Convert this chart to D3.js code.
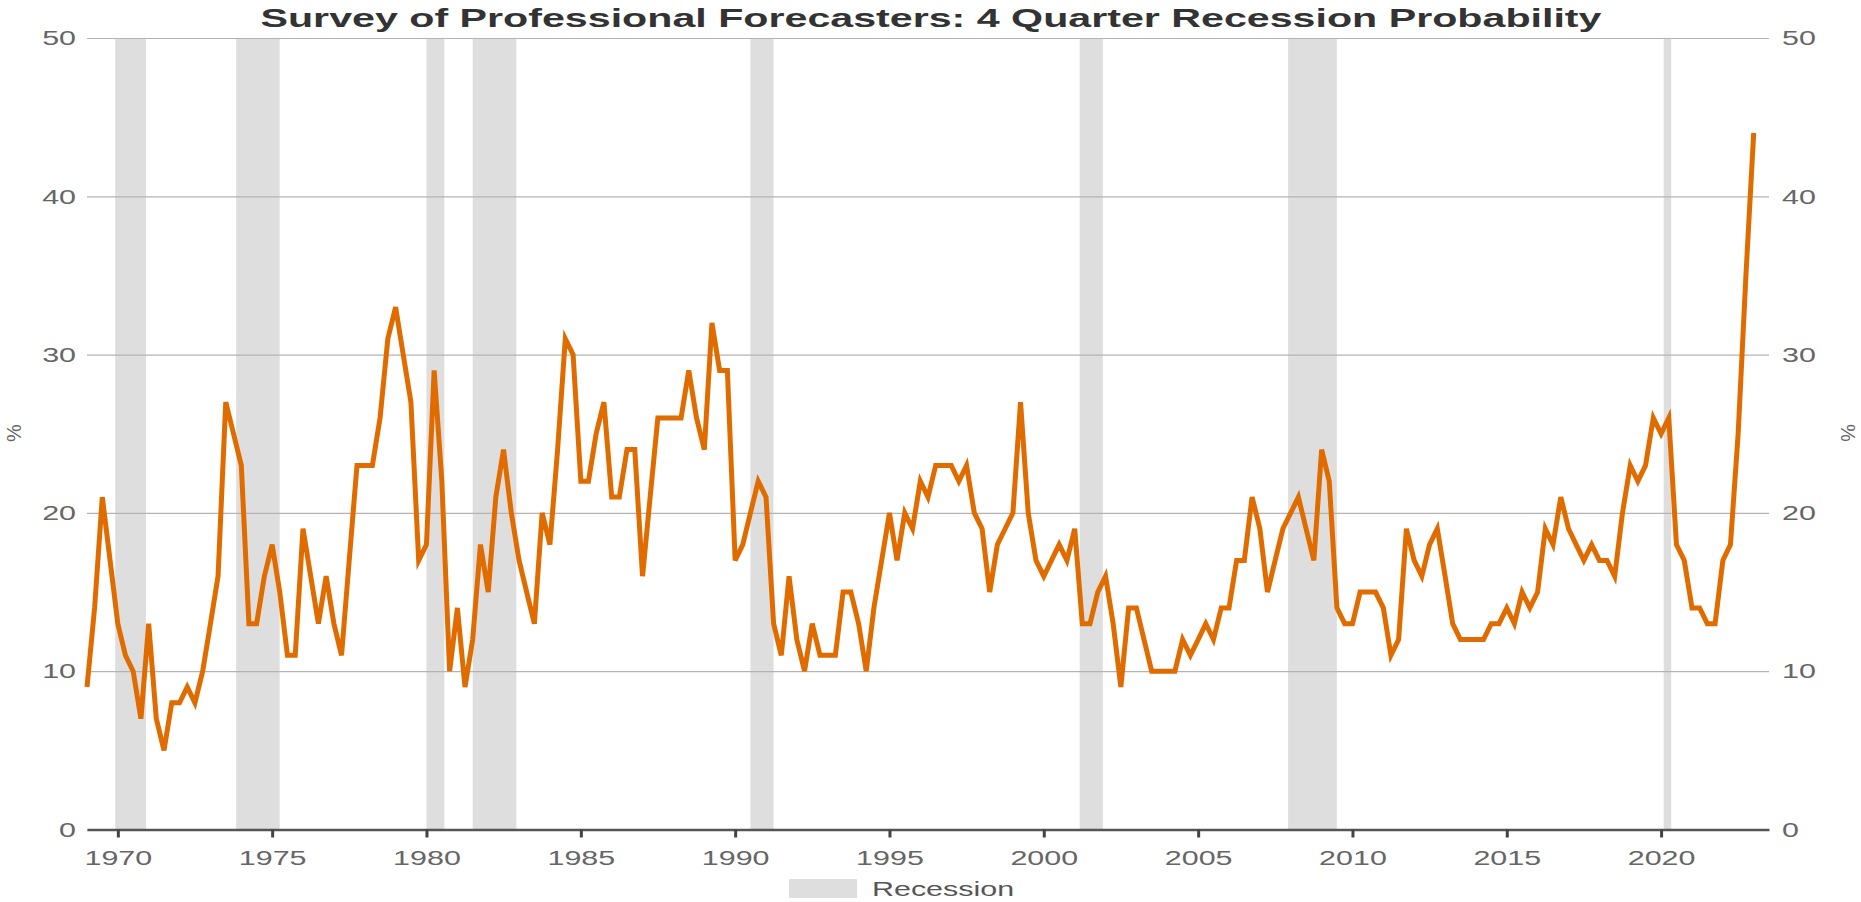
<!DOCTYPE html>
<html>
<head>
<meta charset="utf-8">
<script src="https://cdn.jsdelivr.net/npm/d3@7"></script>
<style>
  html, body { margin: 0; padding: 0; background: #ffffff; }
  svg { display: block; font-family: "Liberation Sans", Arial, Helvetica, sans-serif; }
</style>
</head>
<body>
<svg id="chart" width="1861" height="902"></svg>
<script>
// ---------------- data ----------------
const chartTitle = "Survey of Professional Forecasters: 4 Quarter Recession Probability";
const yAxisLabel = "%";
const legendLabel = "Recession";

// quarterly series, first observation 1968Q4 (plotted at quarter end)
const firstYear = 1968;
const firstQuarter = 4;
const probability = [
  9, 14, 21, 17, 13, 11, 10, 7, 13, 7, 5, 8, 8, 9, 8, 10,
  13, 16, 27, 25, 23, 13, 13, 16, 18, 15, 11, 11, 19, 16, 13, 16,
  13, 11, 17, 23, 23, 23, 26, 31, 33, 30, 27, 17, 18, 29, 22, 10,
  14, 9, 12, 18, 15, 21, 24, 20, 17, 15, 13, 20, 18, 24, 31, 30,
  22, 22, 25, 27, 21, 21, 24, 24, 16, 21, 26, 26, 26, 26, 29, 26,
  24, 32, 29, 29, 17, 18, 20, 22, 21, 13, 11, 16, 12, 10, 13, 11,
  11, 11, 15, 15, 13, 10, 14, 17, 20, 17, 20, 19, 22, 21, 23, 23,
  23, 22, 23, 20, 19, 15, 18, 19, 20, 27, 20, 17, 16, 17, 18, 17,
  19, 13, 13, 15, 16, 13, 9, 14, 14, 12, 10, 10, 10, 10, 12, 11,
  12, 13, 12, 14, 14, 17, 17, 21, 19, 15, 17, 19, 20, 21, 19, 17,
  24, 22, 14, 13, 13, 15, 15, 15, 14, 11, 12, 19, 17, 16, 18, 19,
  16, 13, 12, 12, 12, 12, 13, 13, 14, 13, 15, 14, 15, 19, 18, 21,
  19, 18, 17, 18, 17, 17, 16, 20, 23, 22, 23, 26, 25, 26, 18, 17,
  14, 14, 13, 13, 17, 18, 25, 35, 44
];

const recessionStarts = ["1969-12-01", "1973-11-01", "1980-01-01", "1981-07-01", "1990-07-01", "2001-03-01", "2007-12-01", "2020-02-01"];
const recessionEnds   = ["1970-11-30", "1975-03-31", "1980-07-31", "1982-11-30", "1991-03-31", "2001-11-30", "2009-06-30", "2020-04-30"];

const yTickValues = [0, 10, 20, 30, 40, 50];
const xTickYears = [1970, 1975, 1980, 1985, 1990, 1995, 2000, 2005, 2010, 2015, 2020];

// ---------------- layout ----------------
const W = 1861, H = 902;
const plot = { left: 87, right: 1769, top: 38, bottom: 829.5 };
const textStretch = 1.45;          // reference text is horizontally widened
const lineColor = "#e06c00";
const bandColor = "#dedede";

const svg = d3.select("#chart");

const series = probability.map((v, i) => ({
  date: new Date(firstYear, (firstQuarter - 1) * 3 + 3 + 3 * i, 1),
  value: v
}));

const x = d3.scaleTime()
  .domain([new Date(1969, 0, 1), new Date(2023, 6, 1)])
  .range([plot.left, plot.right]);

const y = d3.scaleLinear()
  .domain([0, 50])
  .range([plot.bottom, plot.top]);

function stretch(sel, anchorX) {
  sel.each(function () {
    const t = d3.select(this);
    const ax = anchorX != null ? anchorX : (+t.attr("x") || 0);
    t.attr("transform", `translate(${ax},0) scale(${textStretch},1) translate(${-ax},0)`);
  });
}

// recession bands
const recessions = recessionStarts.map((s, i) => ({ start: new Date(s), end: new Date(recessionEnds[i]) }));
svg.append("g").selectAll("rect")
  .data(recessions)
  .join("rect")
  .attr("x", d => x(d.start))
  .attr("width", d => Math.max(1, x(d.end) - x(d.start)))
  .attr("y", y(50))
  .attr("height", y(0) - y(50))
  .attr("fill", bandColor);

// gridlines
const grid = svg.append("g")
  .attr("transform", `translate(${plot.left},0)`)
  .call(d3.axisLeft(y).tickValues(yTickValues).tickSize(-(plot.right - plot.left)).tickFormat(""));
grid.select(".domain").remove();
grid.selectAll(".tick line").attr("stroke", "#b3b3b3").attr("stroke-width", 1.2);

// left labels
const yLeft = svg.append("g")
  .attr("transform", `translate(${plot.left},0)`)
  .call(d3.axisLeft(y).tickValues(yTickValues).tickSize(0).tickPadding(11));
yLeft.select(".domain").remove();
yLeft.selectAll("text").attr("font-size", 21).attr("fill", "#666").attr("font-family", null);
stretch(yLeft.selectAll("text"));

// right labels
const yRight = svg.append("g")
  .attr("transform", `translate(${plot.right},0)`)
  .call(d3.axisRight(y).tickValues(yTickValues).tickSize(0).tickPadding(13));
yRight.select(".domain").remove();
yRight.selectAll("text").attr("font-size", 21).attr("fill", "#666").attr("font-family", null);
stretch(yRight.selectAll("text"));

// x axis
const xAxis = svg.append("g")
  .attr("transform", `translate(0,${y(0)})`)
  .call(d3.axisBottom(x)
    .tickValues(xTickYears.map(yr => new Date(yr, 0, 1)))
    .tickFormat(d3.timeFormat("%Y"))
    .tickSize(8)
    .tickPadding(13)
    .tickSizeOuter(0));
xAxis.select(".domain").attr("stroke", "#555").attr("stroke-width", 2.5);
xAxis.selectAll(".tick line").attr("stroke", "#444").attr("stroke-width", 3);
xAxis.selectAll("text").attr("font-size", 21).attr("fill", "#666").attr("font-family", null);
stretch(xAxis.selectAll("text"), 0);

// line
const line = d3.line()
  .x(d => x(d.date))
  .y(d => y(d.value));

svg.append("path")
  .datum(series)
  .attr("fill", "none")
  .attr("stroke", lineColor)
  .attr("stroke-width", 5)
  .attr("stroke-linejoin", "miter")
  .attr("d", line);

// title
svg.append("text")
  .attr("x", (W - 1341) / 2 + 0.5)
  .attr("y", 27)
  .attr("font-size", 26)
  .attr("font-weight", "bold")
  .attr("fill", "#333")
  .attr("textLength", 1341)
  .attr("lengthAdjust", "spacingAndGlyphs")
  .text(chartTitle);

// axis titles
svg.append("text")
  .attr("transform", `translate(21,433) rotate(-90) `)
  .attr("text-anchor", "middle")
  .attr("font-size", 20)
  .attr("fill", "#666")
  .text(yAxisLabel);

svg.append("text")
  .attr("transform", `translate(1841,433) rotate(90)`)
  .attr("text-anchor", "middle")
  .attr("font-size", 20)
  .attr("fill", "#666")
  .text(yAxisLabel);

// legend
const legend = svg.append("g");
legend.append("rect")
  .attr("x", 789).attr("y", 879)
  .attr("width", 68).attr("height", 19)
  .attr("fill", bandColor);
const legendText = legend.append("text")
  .attr("x", 872).attr("y", 896)
  .attr("font-size", 21)
  .attr("fill", "#555")
  .text(legendLabel);
stretch(legendText);
</script>
</body>
</html>
